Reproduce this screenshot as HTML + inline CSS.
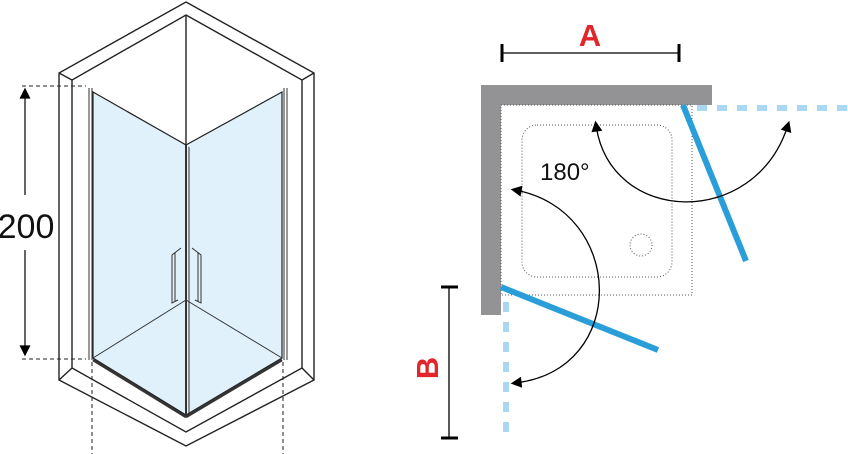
<!DOCTYPE html>
<html><head><style>body{margin:0;background:#fff}svg{display:block}</style></head><body>
<svg width="848" height="454" viewBox="0 0 848 454" xmlns="http://www.w3.org/2000/svg" font-family="Liberation Sans, sans-serif">
<defs><marker id="ah" viewBox="0 0 10 10" refX="6" refY="5" markerWidth="13" markerHeight="11" markerUnits="userSpaceOnUse" orient="auto-start-reverse"><path d="M0,0 L10,5 L0,10 z" fill="#000"/></marker></defs>
<g fill="none" stroke="#222" stroke-width="1.4">
<polygon points="186,2 314,73 314,380 186,446 59,380 59,73" fill="#fff"/>
<polygon points="186,15 302,80 302,368 186,432 72,368 72,80"/>
<line x1="59" y1="73" x2="72" y2="80"/><line x1="314" y1="73" x2="302" y2="80"/>
<line x1="59" y1="380" x2="72" y2="368"/><line x1="314" y1="380" x2="302" y2="368"/>
<line x1="186" y1="15" x2="186" y2="145"/>
</g>
<polygon points="93,92 186,145 186,415 93,358" fill="#e0f1fb" stroke="#222" stroke-width="1.2"/>
<polygon points="282,92 186,145 186,415 282,358" fill="#e0f1fb" stroke="#222" stroke-width="1.2"/>
<g stroke="#333" stroke-width="1" fill="none">
<line x1="93" y1="358" x2="186" y2="300"/><line x1="282" y1="358" x2="186" y2="300"/>
<line x1="89" y1="88" x2="89" y2="360"/><line x1="92" y1="88" x2="92" y2="360"/>
<line x1="284" y1="88" x2="284" y2="360"/><line x1="287" y1="88" x2="287" y2="360"/>
<line x1="93" y1="360" x2="186" y2="417" stroke-width="2.5"/><line x1="282" y1="360" x2="186" y2="417" stroke-width="2.5"/>
<line x1="186" y1="145" x2="186" y2="415" stroke-width="2"/>
<line x1="189" y1="147" x2="189" y2="413"/>
<path d="M181,248 L172,255 L172,303 L178,300"/><path d="M175,252 L175,301"/>
<path d="M192,248 L201,255 L201,303 L195,300"/><path d="M198,252 L198,301"/>
</g>
<g stroke="#222" stroke-width="1" stroke-dasharray="4 3" fill="none">
<line x1="22" y1="86" x2="86" y2="86"/><line x1="22" y1="359" x2="86" y2="359"/>
<line x1="92" y1="362" x2="92" y2="454"/><line x1="283" y1="362" x2="283" y2="454"/>
</g>
<line x1="25" y1="92" x2="25" y2="195" stroke="#000" stroke-width="1.2" marker-start="url(#ah)"/>
<line x1="25" y1="250" x2="25" y2="352" stroke="#000" stroke-width="1.2" marker-end="url(#ah)"/>
<text x="26" y="238" font-size="34" text-anchor="middle" fill="#111">200</text>
<!-- right -->
<rect x="481" y="85" width="20" height="230" fill="#939396"/>
<rect x="481" y="85" width="231" height="20" fill="#939396"/>
<rect x="501" y="105" width="191" height="190" fill="none" stroke="#555" stroke-width="1" stroke-dasharray="1 2"/>
<rect x="522" y="125" width="150" height="152" rx="15" fill="none" stroke="#555" stroke-width="1" stroke-dasharray="1 2"/>
<circle cx="641" cy="245" r="11" fill="none" stroke="#555" stroke-width="1" stroke-dasharray="1 2"/>
<g stroke="#a9d9f2" stroke-width="6" stroke-dasharray="10 10">
<line x1="697" y1="108" x2="848" y2="108"/><line x1="506" y1="302" x2="506" y2="440"/>
</g>
<g stroke="#2a9ed8" stroke-width="6">
<line x1="683" y1="105" x2="746" y2="261"/><line x1="501" y1="287" x2="658" y2="350"/>
</g>
<g stroke="#000" stroke-width="1.3" fill="none">
<path d="M596,125 C610,225 755,230 788,125" marker-start="url(#ah)" marker-end="url(#ah)"/>
<path d="M515,190 C625,210 630,370 515,383" marker-start="url(#ah)" marker-end="url(#ah)"/>
<line x1="502" y1="53" x2="679" y2="53"/>
<line x1="449" y1="287" x2="449" y2="438"/>
</g>
<g stroke="#000" stroke-width="3"><line x1="502" y1="44" x2="502" y2="62"/><line x1="679" y1="44" x2="679" y2="62"/><line x1="441" y1="287" x2="458" y2="287"/><line x1="441" y1="438" x2="458" y2="438"/></g>
<text x="590" y="46" font-size="31" font-weight="bold" fill="#e0262b" text-anchor="middle">A</text>
<text transform="translate(438,368) rotate(-90)" font-size="31" font-weight="bold" fill="#e0262b" text-anchor="middle">B</text>
<text x="540" y="180" font-size="24" fill="#111">180°</text>
</svg>
</body></html>
